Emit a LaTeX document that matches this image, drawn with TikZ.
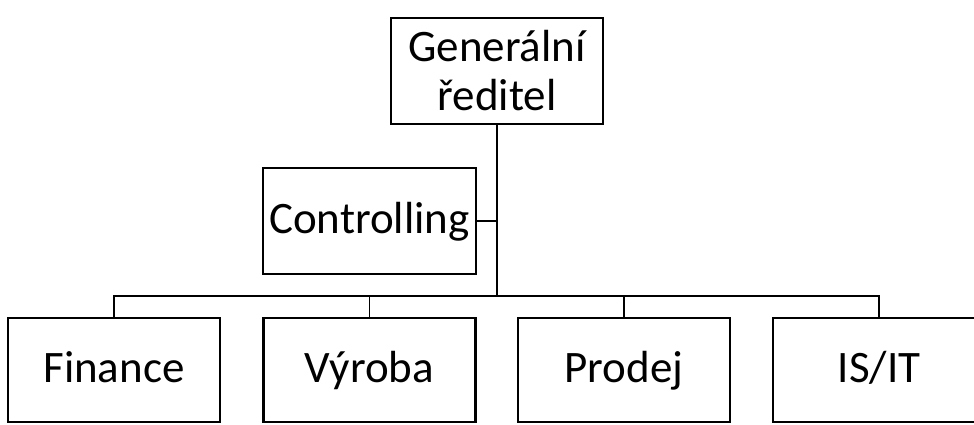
\documentclass[tikz,border=0pt]{standalone}
\usepackage{fontspec}
\setmainfont{Carlito}
\begin{document}
\begin{tikzpicture}[x=1pt,y=-1pt,
  box/.style={draw=black,line width=2.6pt,rectangle,minimum width=212pt,minimum height=106pt,inner sep=0pt,align=center,font=\fontsize{45}{49}\selectfont},
  onebox/.style={box,text height=32pt,text depth=8pt},
  conn/.style={draw=black,line width=1.3pt}]
\useasboundingbox (0,0) rectangle (974,424);
\clip (0,0) rectangle (974,424);
\node[box] (gen) at (497,71) {Generální\\ředitel};
\node[onebox,minimum width=213pt] (ctrl) at (369.5,221) {Controlling};
\node[onebox,minimum height=104pt] (fin) at (114,370) {Finance};
\node[onebox,minimum height=104pt] (vyr) at (369.5,370) {Výroba};
\node[onebox,minimum height=104pt] (pro) at (624,370) {Prodej};
\node[onebox,minimum height=104pt] (isit) at (879,370) {IS/IT};
\coordinate (bus) at (497,296);
\draw[conn] (gen.south) -- (bus);
\draw[conn] (ctrl.east) -- (gen.south |- ctrl.east);
\draw[conn] (fin.north) |- (bus) -| (isit.north);
\draw[conn] (vyr.north) -- (vyr.north |- bus);
\draw[conn] (pro.north) -- (pro.north |- bus);
\end{tikzpicture}
\end{document}
